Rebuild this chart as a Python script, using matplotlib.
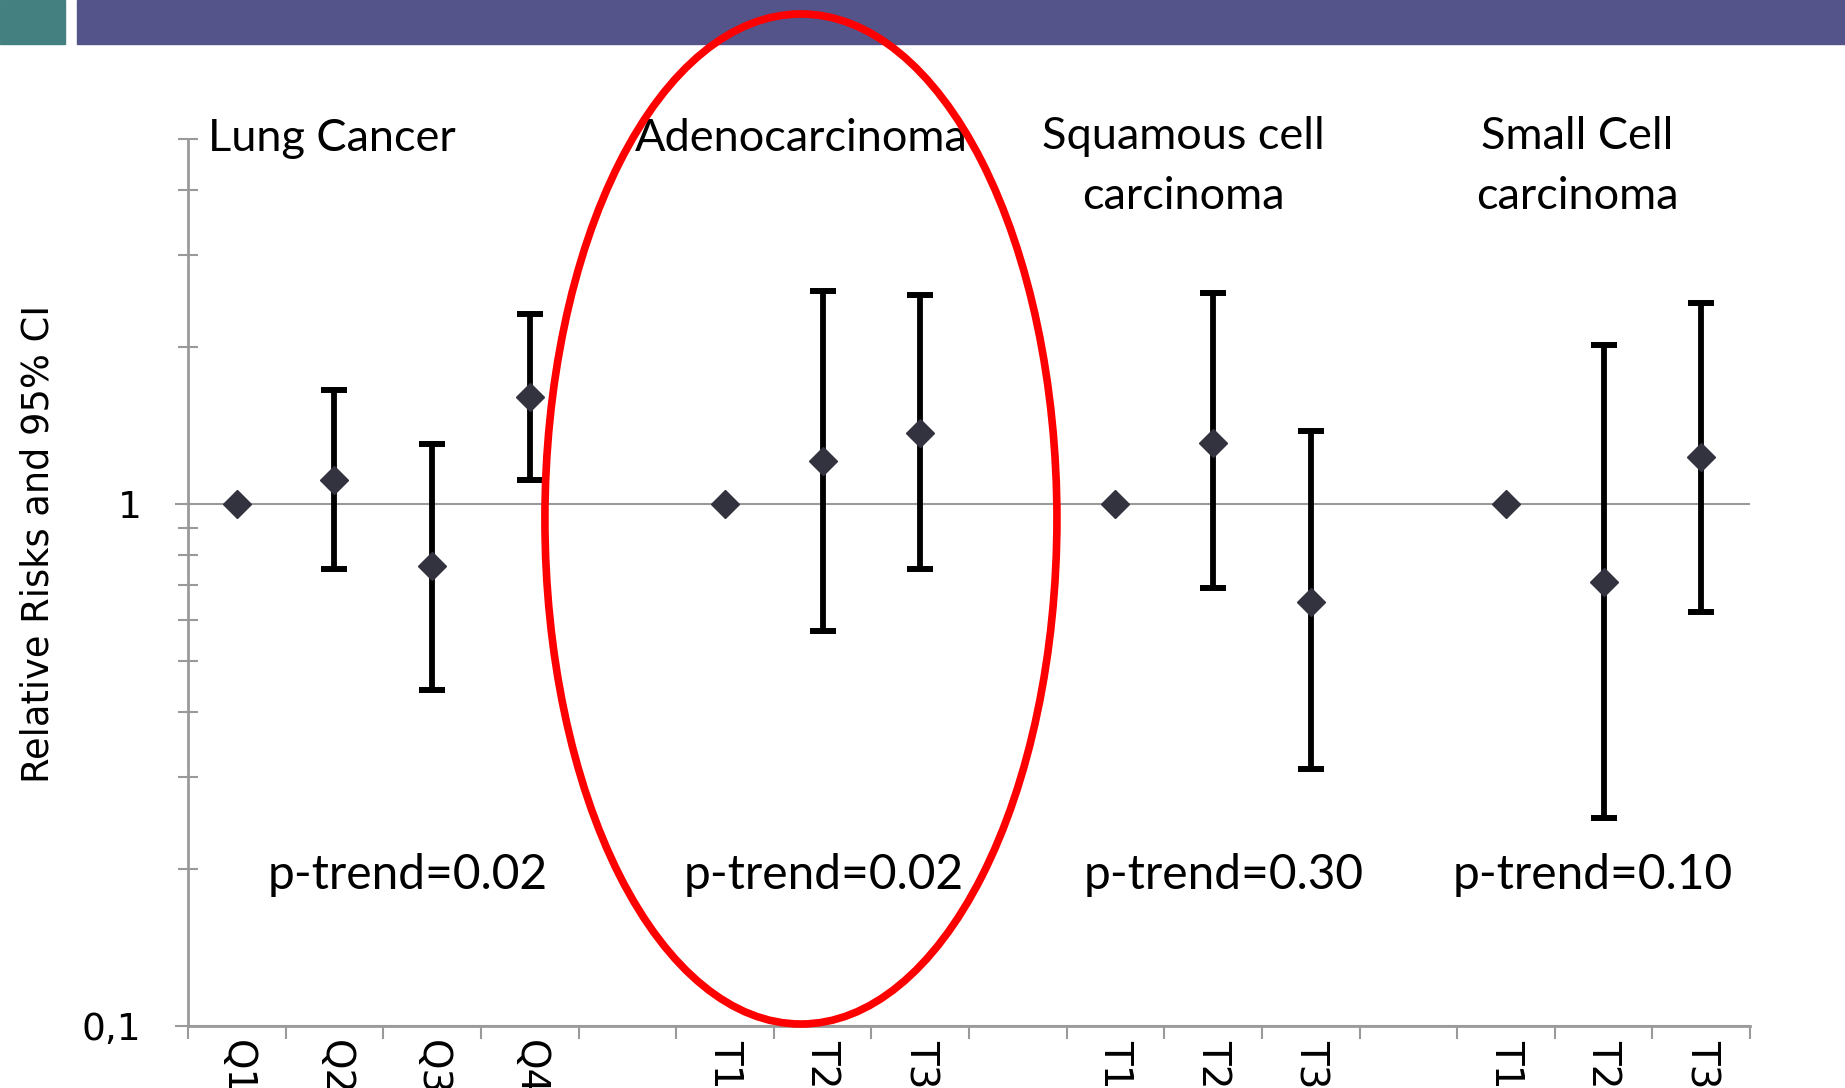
import numpy as np
import matplotlib
matplotlib.use("Agg")
import matplotlib.pyplot as plt
from matplotlib.patches import Ellipse, Rectangle
from matplotlib.ticker import FixedLocator, NullFormatter

# categories along the x axis (blank slots separate the groups)
categories = ['Q1', 'Q2', 'Q3', 'Q4', '',
              'T1', 'T2', 'T3', '',
              'T1', 'T2', 'T3', '',
              'T1', 'T2', 'T3']

# relative risks and 95% confidence limits (nan = no value / reference)
rr    = [1.00, 1.11, 0.76, 1.60, np.nan, 1.00, 1.21, 1.37, np.nan, 1.00, 1.31, 0.65, np.nan, 1.00, 0.71, 1.23]
lower = [np.nan, 0.75, 0.44, 1.11, np.nan, np.nan, 0.57, 0.75, np.nan, np.nan, 0.69, 0.31, np.nan, np.nan, 0.25, 0.62]
upper = [np.nan, 1.65, 1.30, 2.31, np.nan, np.nan, 2.56, 2.51, np.nan, np.nan, 2.53, 1.38, np.nan, np.nan, 2.02, 2.43]

group_titles = ['Lung Cancer', 'Adenocarcinoma', 'Squamous cell\ncarcinoma', 'Small Cell\ncarcinoma']
group_title_x = [0.97, 5.78, 9.70, 13.73]
p_trend = ['0.02', '0.02', '0.30', '0.10']
p_trend_x = [1.75, 6.01, 10.11, 13.89]

axis_grey = '#9a9a9a'
marker_col = '#333340'

fig = plt.figure(figsize=(18.45, 10.88), dpi=100)
ax = fig.add_axes([188/1845, 62/1088, 1562/1845, 887/1088])

x = np.arange(len(categories))
rr = np.array(rr)
lower = np.array(lower)
upper = np.array(upper)

# confidence intervals
has_ci = ~np.isnan(lower)
err = np.vstack([rr[has_ci] - lower[has_ci], upper[has_ci] - rr[has_ci]])
_, caps, bars = ax.errorbar(x[has_ci], rr[has_ci], yerr=err, fmt='none',
                            ecolor='black', elinewidth=4.2, capsize=9.7,
                            capthick=4.3, zorder=3)
for c in caps:
    c.set_color(marker_col)

# point estimates
ax.plot(x, rr, linestyle='none', marker='D', markersize=14.5,
        color=marker_col, zorder=4)

ax.set_yscale('log')
ax.set_ylim(0.1, 5)
ax.set_xlim(-0.5, len(categories) - 0.5)

# y axis: labelled decades, unlabelled minor ticks
ax.yaxis.set_major_locator(FixedLocator([0.1, 1]))
ax.set_yticklabels(['0,1', '1'])
ax.yaxis.set_minor_locator(FixedLocator([0.2, 0.3, 0.4, 0.5, 0.6, 0.7, 0.8, 0.9, 2, 3, 4, 5]))
ax.yaxis.set_minor_formatter(NullFormatter())
ax.tick_params(axis='y', which='major', direction='out', length=9.5, width=1.5,
               color=axis_grey, pad=24, labelsize=27)
ax.tick_params(axis='y', which='minor', direction='inout', length=15, width=1.5,
               color=axis_grey)
ax.yaxis.grid(True, which='major', color=axis_grey, linewidth=1.5, zorder=1)
ax.set_axisbelow(True)

# x axis: ticks between categories, labels at centres
ax.xaxis.set_major_locator(FixedLocator(np.arange(len(categories) + 1) - 0.5))
ax.xaxis.set_major_formatter(NullFormatter())
ax.xaxis.set_minor_locator(FixedLocator(x))
ax.set_xticklabels(categories, minor=True, rotation=-90, fontsize=28)
ax.tick_params(axis='x', which='major', direction='out', length=9.5, width=1.5,
               color=axis_grey)
ax.tick_params(axis='x', which='minor', length=0, pad=10)
for lab in ax.get_xticklabels(minor=True):
    lab.set_verticalalignment('top')

for side in ['top', 'right']:
    ax.spines[side].set_visible(False)
for side in ['left', 'bottom']:
    ax.spines[side].set_color(axis_grey)
    ax.spines[side].set_linewidth(2)

ax.set_ylabel('Relative Risks and 95% CI', fontsize=26.5)
ax.yaxis.set_label_coords(-0.084, 0.543)

# group headings and trend p-values
for t, gx in zip(group_titles, group_title_x):
    ty = 5.0 if '\n' not in t else 4.43
    ax.text(gx, ty, t, ha='center', va='center', fontsize=32.5, family='Lato',
            linespacing=1.55)
for p, px in zip(p_trend, p_trend_x):
    ax.text(px, 0.195, 'p-trend=' + p, ha='center', va='center', fontsize=34.5,
            family='Lato')

# highlight around the adenocarcinoma group
ax.add_patch(Ellipse((0.3924, 0.5716), 0.3278, 1.1387, transform=ax.transAxes,
                     fill=False, edgecolor='#ff0000', linewidth=5.5,
                     clip_on=False, zorder=5))

# header bars
fig.patches.append(Rectangle((0, 1 - 44/1088), 65/1845, 44/1088,
                             transform=fig.transFigure, color='#458080', zorder=-1))
fig.patches.append(Rectangle((77/1845, 1 - 44/1088), 1 - 77/1845, 44/1088,
                             transform=fig.transFigure, color='#54548a', zorder=-1))

fig.savefig('out.png', dpi=100)
